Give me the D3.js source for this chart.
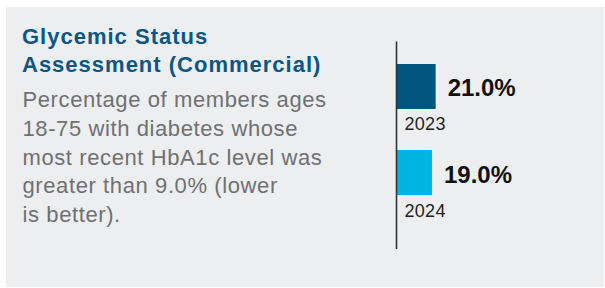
<!DOCTYPE html>
<html>
<head>
<meta charset="utf-8">
<script src="https://cdn.jsdelivr.net/npm/d3@7"></script>
<style>
  html, body { margin: 0; padding: 0; background: #ffffff; }
  svg { display: block; }
</style>
</head>
<body>
<svg id="chart" width="605" height="288"></svg>
<script>
const years = ["2023", "2024"];
const values = [21.0, 19.0];
const valueLabels = ["21.0%", "19.0%"];
const titleLines = ["Glycemic Status", "Assessment (Commercial)"];
const bodyLines = [
  "Percentage of members ages",
  "18-75 with diabetes whose",
  "most recent HbA1c level was",
  "greater than 9.0% (lower",
  "is better)."
];
const barColors = ["#00567f", "#00b5e2"];

const svg = d3.select("#chart");
const font = "'Liberation Sans', Arial, Helvetica, sans-serif";

svg.append("rect")
  .attr("x", 6).attr("y", 7)
  .attr("width", 598).attr("height", 280)
  .attr("fill", "#edeef0");

const title = svg.append("text")
  .attr("font-family", font)
  .attr("font-weight", "bold")
  .attr("font-size", 22)
  .attr("letter-spacing", 1.0)
  .attr("fill", "#0b5683");
title.selectAll("tspan").data(titleLines).join("tspan")
  .attr("x", 22)
  .attr("y", (d, i) => 43.5 + i * 28.3)
  .text(d => d);

const body = svg.append("text")
  .attr("font-family", font)
  .attr("font-size", 22)
  .attr("letter-spacing", 0.6)
  .attr("fill", "#6f7072");
body.selectAll("tspan").data(bodyLines).join("tspan")
  .attr("x", 22.5)
  .attr("y", (d, i) => 107.3 + i * 28.6)
  .text(d => d);

const x0 = 397;
const x = d3.scaleLinear().domain([0, 100]).range([x0, x0 + 184]);
const y = d3.scaleBand().domain(years).range([64, 195])
  .paddingInner(0.477).paddingOuter(0).align(0);

svg.selectAll("rect.bar").data(years).join("rect")
  .attr("class", "bar")
  .attr("x", x(0))
  .attr("y", d => y(d))
  .attr("width", (d, i) => x(values[i]) - x(0))
  .attr("height", y.bandwidth())
  .attr("fill", (d, i) => barColors[i]);

svg.selectAll("text.val").data(years).join("text")
  .attr("class", "val")
  .attr("x", (d, i) => x(values[i]) + 12)
  .attr("y", d => y(d) + y.bandwidth() / 2 + 10)
  .attr("font-family", font)
  .attr("font-weight", "bold")
  .attr("font-size", 24)
  .attr("fill", "#111111")
  .text((d, i) => valueLabels[i]);

svg.selectAll("text.yr").data(years).join("text")
  .attr("class", "yr")
  .attr("x", x0 + 7.5)
  .attr("y", d => y(d) + y.bandwidth() + 21.5)
  .attr("font-family", font)
  .attr("font-size", 18)
  .attr("letter-spacing", 0.3)
  .attr("fill", "#222222")
  .text(d => d);

svg.append("line")
  .attr("x1", 396.5).attr("x2", 396.5)
  .attr("y1", 41.5).attr("y2", 249)
  .attr("stroke", "#333333")
  .attr("stroke-width", 1.6);
</script>
</body>
</html>
